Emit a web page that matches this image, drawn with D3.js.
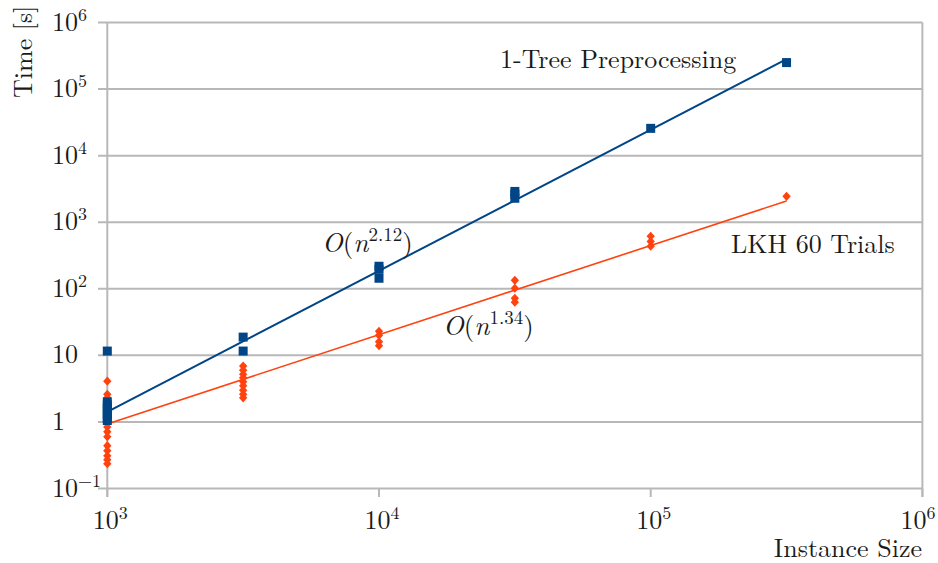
<!DOCTYPE html>
<html><head><meta charset="utf-8">
<script src="https://cdn.jsdelivr.net/npm/d3@7"></script>
<style>body{margin:0;background:#fff}svg{display:block}</style>
</head><body>
<script>
// ---- data ----
const instanceSizes = [1e3, 3162.28, 1e4, 31622.8, 1e5, 316228];
const treeTimes = [
  [11.6, 2.0, 1.8, 1.6, 1.45, 1.3, 1.15, 1.05],
  [18.8, 11.6],
  [218, 196, 144],
  [2900, 2620, 2290],
  [25700],
  [250000]
];
const lkhTimes = [
  [4.1, 2.6, 2.3, 0.84, 0.71, 0.6, 0.44, 0.37, 0.31, 0.27, 0.235],
  [6.9, 6.0, 5.2, 4.6, 4.0, 3.5, 3.0, 2.6, 2.3],
  [23, 20, 16, 14],
  [134, 102, 72, 63],
  [615, 515, 435],
  [2450]
];
const treeFit = {exponent: 2.12, log10Coef: -6.21};
const lkhFit = {exponent: 1.34, log10Coef: -4.05};
const xTickExps = [3, 4, 5, 6];
const yTickExps = [-1, 0, 1, 2, 3, 4, 5, 6];
const seriesNames = ["1-Tree Preprocessing", "LKH 60 Trials"];
const fitLabels = ["2.12", "1.34"];

// ---- drawing ----
const W = 938, H = 563;
const FONT = "'Latin Modern Roman'";
const blue = "#004586", orange = "#ff420e", grid = "#b8b8b8", ink = "#1a1a1a";
const svg = d3.select("body").append("svg").attr("width", W).attr("height", H);
const x = d3.scaleLog().domain([1e3, 1e6]).range([107.3, 922.4]);
const y = d3.scaleLog().domain([0.1, 1e6]).range([488.5, 22.5]);
const txt = (sel) => sel.style("font-family", FONT).style("fill", ink);

// horizontal gridlines + left ticks
svg.append("g").selectAll("line").data(yTickExps).join("line")
  .attr("x1", 98).attr("x2", x(1e6))
  .attr("y1", d => y(10 ** d)).attr("y2", d => y(10 ** d))
  .attr("stroke", grid).attr("stroke-width", 2);
// vertical axis lines
[1e3, 1e6].forEach(v => svg.append("line").attr("x1", x(v)).attr("x2", x(v))
  .attr("y1", y(1e6)).attr("y2", 497).attr("stroke", grid).attr("stroke-width", 2));
// bottom ticks
svg.append("g").selectAll("line").data(xTickExps).join("line")
  .attr("x1", d => x(10 ** d)).attr("x2", d => x(10 ** d))
  .attr("y1", y(0.1)).attr("y2", 497).attr("stroke", grid).attr("stroke-width", 2);

// y tick labels
svg.append("g").selectAll("text").data(yTickExps).join("text")
  .attr("x", 52).attr("y", d => y(10 ** d) + 8).style("font-size", "26px").call(txt)
  .each(function(d) {
    const t = d3.select(this);
    if (d === 0) t.text("1");
    else if (d === 1) t.text("10");
    else {
      t.append("tspan").text("10");
      t.append("tspan").style("font-size", "18px").attr("dy", -10).text(d < 0 ? "\u2212" + (-d) : d);
    }
  });
// x tick labels
svg.append("g").selectAll("text").data(xTickExps).join("text")
  .attr("x", d => Math.min(x(10 ** d) + 3, 918)).attr("y", 529).style("font-size", "26px").attr("text-anchor", "middle").call(txt)
  .each(function(d) {
    const t = d3.select(this);
    t.append("tspan").text("10");
    t.append("tspan").style("font-size", "18px").attr("dy", -10).text(d);
  });

// axis titles
svg.append("text").attr("x", 922).attr("y", 557).attr("text-anchor", "end")
  .style("font-size", "26px").call(txt).text("Instance Size");
svg.append("text").attr("transform", "translate(32,98) rotate(-90)")
  .style("font-size", "26px").call(txt).text("Time [s]");

// fit lines
const fitLine = f => [1e3, 316228].map(n => [x(n), y(10 ** (f.log10Coef + f.exponent * Math.log10(n)))]);
svg.append("path").attr("d", d3.line()(fitLine(lkhFit))).attr("stroke", orange).attr("stroke-width", 1.6).attr("fill", "none");
svg.append("path").attr("d", d3.line()(fitLine(treeFit))).attr("stroke", blue).attr("stroke-width", 2).attr("fill", "none");

// markers
const flat = arr => arr.flatMap((vals, i) => vals.map(v => ({n: instanceSizes[i], t: v})));
svg.append("g").selectAll("path").data(flat(lkhTimes)).join("path")
  .attr("d", d3.symbol(d3.symbolDiamond2, 44)())
  .attr("transform", d => `translate(${x(d.n)},${y(d.t)}) scale(1,1.1)`)
  .attr("fill", orange);
svg.append("g").selectAll("rect").data(flat(treeTimes)).join("rect")
  .attr("x", d => x(d.n) - 4.5).attr("y", d => y(d.t) - 4.5)
  .attr("width", 9).attr("height", 9).attr("fill", blue);

// series labels
svg.append("text").attr("x", 500).attr("y", 68).style("font-size", "26px").call(txt).text(seriesNames[0]);
svg.append("text").attr("x", 731).attr("y", 253).style("font-size", "26px").call(txt).text(seriesNames[1]);

// fit labels
function fitText(px, py, exp) {
  const t = svg.append("text").attr("x", px).attr("y", py).style("font-size", "27px").call(txt);
  t.append("tspan").style("font-style", "italic").text("O");
  t.append("tspan").text("(");
  t.append("tspan").style("font-style", "italic").text("n");
  t.append("tspan").style("font-size", "19px").attr("dy", -11).text(exp);
  t.append("tspan").attr("dy", 11).text(")");
}
fitText(322, 252, fitLabels[0]);
fitText(443, 335, fitLabels[1]);
</script>
</body></html>
